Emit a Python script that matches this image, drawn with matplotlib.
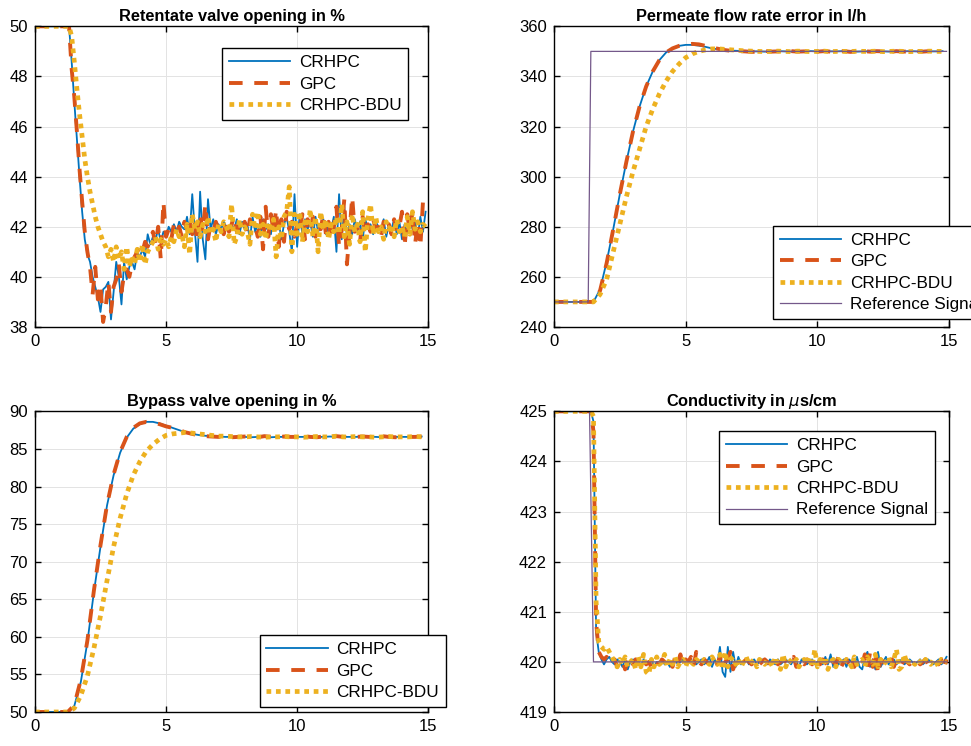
"""
Closed-loop responses of the RO plant for three controllers (CRHPC, GPC, CRHPC-BDU).

Four panels: retentate valve, permeate flow, bypass valve and conductivity.
"""

from __future__ import annotations

import matplotlib

matplotlib.use("Agg")
import matplotlib.pyplot as plt
import numpy as np


OUTPUT_PATH = "out.png"

FAST_DT = 0.1   # sample time of the noisy signals [s]
SLOW_DT = 0.25  # sample time of the smooth signals [s]

SERIES_NAMES = ["CRHPC", "GPC", "CRHPC-BDU"]
REF_NAME = "Reference Signal"

X_TICKS = [0, 5, 10, 15]

# ---- Retentate valve opening in % (one row = one second) ----
RETENTATE_CRHPC = [
    50, 50, 50, 50, 50, 50, 50, 50, 50, 50,
    50, 50, 50, 50, 48.6, 47.0, 45.5, 44.0, 42.6, 41.5,
    40.9, 40.6, 40.0, 39.6, 39.2, 38.6, 39.5, 39.6, 39.8, 38.3,
    39.4, 40.6, 40.0, 38.9, 40.6, 39.9, 40.4, 40.6, 40.3, 41.0,
    40.8, 41.1, 40.8, 41.7, 41.3, 41.6, 41.5, 41.9, 41.4, 41.8,
    41.6, 42.0, 41.8, 42.1, 41.8, 42.2, 42.0, 41.9, 42.4, 41.7,
    43.3, 41.8, 40.6, 43.4, 41.5, 40.7, 43.1, 41.9, 42.3, 41.7,
    42.1, 41.9, 42.2, 42.0, 41.8, 42.1, 41.9, 42.3, 41.7, 42.2,
    41.9, 42.1, 41.5, 42.4, 41.8, 42.1, 41.6, 42.3, 41.9, 42.1,
    41.7, 42.4, 41.9, 42.2, 41.5, 42.1, 42.4, 41.8, 41.0, 43.3,
    41.2, 42.5, 41.7, 42.3, 41.9, 42.2, 41.6, 42.4, 41.8, 42.0,
    42.3, 41.7, 42.1, 41.9, 42.4, 41.0, 43.3, 41.5, 42.8, 41.6,
    42.1, 41.7, 42.3, 41.8, 42.2, 41.5, 42.3, 41.9, 42.1, 41.7,
    42.2, 42.0, 41.8, 42.3, 41.6, 42.1, 41.9, 42.3, 41.7, 42.2,
    41.5, 42.1, 41.8, 42.4, 41.9, 42.2, 41.6, 42.4, 41.8, 42.6,
]
RETENTATE_GPC = [
    50, 50, 50, 50, 50, 50, 50, 50, 50, 50,
    50, 50, 50, 50, 48.3, 47.2, 45.8, 44.3, 43.0, 41.8,
    41.0, 40.4, 39.3, 40.4, 39.1, 39.6, 38.2, 38.8, 39.8, 38.6,
    39.6, 39.9, 40.5, 39.4, 40.1, 40.3, 40.0, 40.5, 40.8, 41.0,
    41.2, 41.0, 41.4, 41.2, 41.5, 41.8, 41.3, 42.0, 40.7, 43.0,
    41.6, 41.9, 41.5, 42.1, 41.8, 42.0, 41.6, 42.2, 41.9, 42.3,
    41.7, 42.2, 41.4, 42.5, 41.8, 42.9, 41.5, 42.1, 41.8, 42.2,
    41.9, 42.0, 41.7, 42.2, 41.8, 42.1, 42.4, 41.8, 42.1, 41.9,
    42.2, 41.7, 42.3, 41.9, 42.0, 41.6, 42.4, 41.1, 42.8, 41.6,
    42.5, 41.8, 42.7, 41.2, 42.3, 41.4, 42.6, 41.9, 42.2, 41.6,
    42.1, 41.8, 42.5, 41.5, 42.3, 41.8, 42.4, 41.6, 42.2, 41.9,
    42.5, 41.7, 42.2, 41.5, 42.0, 42.8, 41.2, 41.9, 43.1, 40.5,
    41.8, 43.2, 41.8, 42.0, 41.4, 42.4, 41.7, 42.1, 41.8, 42.3,
    41.9, 42.0, 41.6, 42.2, 41.9, 42.1, 41.7, 42.3, 41.8, 42.0,
    42.6, 41.2, 42.5, 41.8, 42.6, 41.3, 42.2, 41.2, 43.0, 42.6,
]
RETENTATE_BDU = [
    50, 50, 50, 50, 50, 50, 50, 50, 50, 50,
    50, 50, 50, 50, 49.6, 48.6, 47.5, 46.5, 45.6, 44.7,
    44.0, 43.4, 42.9, 42.4, 42.0, 41.7, 41.4, 41.2, 40.8, 41.1,
    40.6, 41.2, 40.7, 41.0, 40.3, 41.2, 40.4, 40.8, 40.5, 41.1,
    40.6, 41.3, 40.5, 41.0, 41.2, 41.4, 41.6, 41.1, 41.5, 41.3,
    41.5, 41.2, 41.6, 41.4, 41.9, 41.6, 41.7, 41.2, 42.1, 40.9,
    42.5, 41.9, 42.2, 41.6, 42.1, 41.8, 42.4, 41.7, 41.9, 41.4,
    42.1, 41.8, 42.2, 42.0, 41.6, 42.9, 41.3, 41.6, 42.3, 41.7,
    42.0, 41.8, 41.3, 42.5, 41.9, 42.6, 41.7, 42.1, 41.5, 42.2,
    41.8, 42.3, 40.8, 42.0, 41.5, 42.4, 42.6, 43.6, 41.0, 42.5,
    41.7, 42.6, 41.4, 42.2, 41.8, 42.7, 41.6, 42.4, 41.0, 42.6,
    41.9, 42.3, 41.5, 42.1, 41.8, 42.4, 41.7, 42.9, 41.6, 42.2,
    41.3, 42.5, 41.8, 42.1, 41.4, 42.6, 41.0, 42.3, 42.9, 41.7,
    42.4, 41.8, 42.0, 41.5, 42.2, 41.9, 42.1, 41.6, 42.3, 41.8,
    42.0, 41.6, 42.4, 41.7, 42.6, 41.9, 42.2, 41.8, 42.1, 42.0,
]

# ---- Permeate flow rate in l/h (one row = one second) ----
FLOW_CRHPC = [
    250, 250, 250, 250,
    250, 250, 250, 255,
    266, 279, 293, 306,
    318, 328, 336, 342,
    346.5, 349.5, 351.3, 352.2,
    352.6, 352.6, 352.3, 351.8,
    351.2, 350.8, 350.5, 350.3,
    350.2, 350.1, 350.0, 350.0,
    349.9, 350.0, 350.1, 350.0,
    349.9, 350.0, 350.0, 350.1,
    350.0, 349.9, 350.0, 350.0,
    350.1, 350.0, 349.9, 350.0,
    350.0, 350.1, 350.0, 349.9,
    350.0, 350.0, 350.1, 350.0,
    349.9, 350.0, 350.0, 350.1,
]
FLOW_GPC = [
    250, 250, 250, 250,
    250, 250, 250, 254.5,
    265.5, 279, 293, 306,
    318, 328, 336, 342,
    346.5, 349.5, 351.2, 352.2,
    352.7, 353.0, 352.8, 352.2,
    351.5, 351.0, 350.5, 350.2,
    350.1, 350.0, 349.8, 349.9,
    350.2, 349.9, 350.0, 349.8,
    350.1, 349.9, 350.0, 350.1,
    349.9, 350.1, 349.9, 350.0,
    350.1, 349.8, 350.0, 350.1,
    349.9, 350.1, 350.0, 349.8,
    350.1, 349.9, 350.0, 350.1,
    349.9, 350.1, 349.9, 350.4,
]
FLOW_BDU = [
    250, 250, 250, 250,
    250, 250, 250, 253,
    259, 270, 281, 292,
    302, 311, 320, 327,
    333, 338, 342, 345,
    347.5, 349, 350, 350.6,
    351.0, 351.0, 350.8, 350.6,
    350.4, 350.2, 350.1, 350.0,
    349.9, 350.0, 350.1, 350.0,
    349.9, 350.1, 350.0, 349.9,
    350.0, 350.1, 349.9, 350.0,
    350.0, 349.9, 350.1, 350.0,
    350.0, 350.1, 349.9, 350.0,
    350.1, 350.0, 349.9, 350.0,
    350.0, 350.1, 350.0, 350.0,
]
FLOW_REF_TIME = [0, 1.3, 1.4, 14.9]
FLOW_REF = [250, 250, 350, 350]

# ---- Bypass valve opening in % (one row = one second) ----
BYPASS_CRHPC = [
    50, 50, 50, 50,
    50, 50, 50.8, 54,
    59.3, 66, 72, 77.5,
    81.5, 84.5, 86.5, 87.7,
    88.3, 88.6, 88.6, 88.4,
    88.1, 87.8, 87.5, 87.2,
    87.0, 86.85, 86.75, 86.7,
    86.65, 86.6, 86.6, 86.6,
    86.6, 86.55, 86.6, 86.6,
    86.55, 86.6, 86.6, 86.65,
    86.6, 86.6, 86.55, 86.6,
    86.6, 86.65, 86.6, 86.6,
    86.6, 86.6, 86.65, 86.6,
    86.6, 86.55, 86.6, 86.6,
    86.6, 86.6, 86.6, 86.65,
]
BYPASS_GPC = [
    50, 50, 50, 50,
    50, 50, 50.9, 54.3,
    59.5, 66.2, 72.2, 77.6,
    81.6, 84.6, 86.6, 87.8,
    88.4, 88.6, 88.5, 88.3,
    88.0, 87.8, 87.5, 87.2,
    87.0, 86.8, 86.7, 86.65,
    86.6, 86.7, 86.55, 86.6,
    86.65, 86.6, 86.55, 86.7,
    86.6, 86.55, 86.65, 86.6,
    86.6, 86.7, 86.6, 86.55,
    86.65, 86.6, 86.7, 86.6,
    86.55, 86.6, 86.65, 86.6,
    86.6, 86.7, 86.6, 86.55,
    86.65, 86.6, 86.6, 86.65,
]
BYPASS_BDU = [
    50, 50, 50, 50,
    50, 50, 50.5, 52.2,
    54.8, 58.5, 62.8, 67.5,
    72, 75.8, 79, 81.5,
    83.3, 84.7, 85.6, 86.3,
    86.8, 87.0, 87.1, 87.2,
    87.1, 87.0, 86.9, 86.8,
    86.7, 86.7, 86.65, 86.6,
    86.6, 86.65, 86.6, 86.55,
    86.6, 86.6, 86.65, 86.6,
    86.6, 86.55, 86.6, 86.65,
    86.6, 86.6, 86.7, 86.6,
    86.6, 86.65, 86.6, 86.6,
    86.55, 86.6, 86.65, 86.6,
    86.6, 86.6, 86.65, 86.6,
]

# ---- Conductivity in uS/cm (one row = one second) ----
COND_CRHPC = [
    425, 425, 425, 425, 425, 425, 425, 425, 425, 425,
    425, 425, 425, 425, 425, 424.8, 420.6, 420.2, 420.05, 419.95,
    420.05, 420.1, 420.0, 419.95, 420.05, 420.0, 419.9, 420.05, 419.85, 420.0,
    420.05, 419.95, 420.0, 419.9, 420.05, 419.95, 420.0, 420.05, 419.9, 420.0,
    419.95, 420.05, 419.95, 420.0, 419.9, 420.0, 420.05, 419.95, 420.0, 420.05,
    419.95, 420.0, 420.05, 420.0, 419.95, 420.0, 420.05, 419.95, 420.0, 420.1,
    419.9, 420.05, 419.95, 420.3, 419.8, 419.7, 420.3, 419.8, 420.2, 419.9,
    420.1, 419.95, 420.0, 420.05, 419.95, 420.0, 420.05, 419.95, 420.0, 420.05,
    420.0, 419.95, 420.05, 420.0, 419.95, 420.05, 419.95, 420.0, 420.05, 420.0,
    419.95, 420.05, 420.0, 419.9, 420.05, 420.0, 419.95, 420.0, 420.05, 419.95,
    420.0, 420.05, 419.95, 420.1, 419.95, 420.15, 419.9, 420.05, 419.95, 420.0,
    420.05, 419.9, 420.05, 420.0, 419.95, 420.1, 419.9, 419.85, 420.1, 420.2,
    419.9, 420.05, 419.85, 420.2, 419.9, 420.0, 420.1, 419.95, 420.0, 420.05,
    419.95, 420.0, 420.05, 419.95, 420.0, 420.05, 420.0, 419.95, 420.0, 420.05,
    419.95, 420.0, 420.05, 420.0, 419.95, 420.0, 420.05, 419.95, 420.0, 420.1,
]
COND_GPC = [
    425, 425, 425, 425, 425, 425, 425, 425, 425, 425,
    425, 425, 425, 425, 425, 424.6, 420.8, 420.2, 420.1, 420.05,
    420.1, 420.0, 419.95, 420.05, 419.9, 420.0, 420.05, 419.85, 420.0, 420.1,
    419.95, 420.05, 419.9, 420.0, 420.05, 419.95, 420.0, 419.9, 420.05, 420.0,
    419.95, 420.05, 420.0, 419.95, 420.05, 419.9, 420.1, 419.95, 420.15, 419.9,
    420.05, 420.0, 420.1, 419.9, 420.2, 420.0, 419.95, 420.05, 420.0, 419.95,
    420.0, 420.05, 419.95, 420.1, 419.9, 420.0, 420.05, 420.2, 419.85, 420.0,
    420.05, 419.95, 420.0, 420.05, 420.0, 419.95, 420.0, 420.05, 419.95, 420.0,
    420.05, 420.0, 419.95, 420.0, 420.05, 419.95, 420.0, 420.05, 420.0, 419.95,
    420.0, 420.1, 419.9, 420.05, 420.0, 419.95, 420.05, 420.0, 419.95, 420.05,
    420.0, 419.95, 420.05, 420.0, 419.9, 420.05, 420.0, 419.95, 420.1, 419.9,
    420.0, 420.05, 419.95, 420.1, 419.9, 420.05, 420.0, 419.95, 420.15, 419.85,
    420.2, 419.9, 420.2, 419.75, 420.05, 420.0, 419.95, 420.05, 420.1, 419.9,
    420.05, 420.0, 419.95, 420.05, 420.0, 419.95, 420.0, 420.05, 420.0, 419.95,
    420.0, 420.05, 419.95, 420.0, 420.05, 420.0, 419.95, 420.05, 419.85, 420.05,
]
COND_BDU = [
    425, 425, 425, 425, 425, 425, 425, 425, 425, 425,
    425, 425, 425, 425, 425, 424.9, 421.2, 420.4, 420.3, 420.25,
    420.3, 420.2, 420.1, 420.0, 419.9, 420.05, 419.95, 420.1, 419.9, 420.0,
    420.05, 419.85, 420.1, 419.9, 420.15, 419.8, 419.75, 420.05, 419.9, 420.1,
    419.95, 420.0, 420.15, 419.9, 420.05, 419.95, 420.1, 419.9, 420.0, 420.05,
    419.9, 420.05, 420.0, 419.95, 420.05, 420.0, 419.95, 420.05, 420.0, 419.95,
    420.1, 420.0, 419.95, 420.15, 419.85, 420.2, 419.9, 420.05, 420.1, 419.95,
    420.05, 419.9, 420.0, 420.1, 419.95, 420.0, 420.05, 419.9, 420.05, 420.0,
    419.95, 420.05, 420.0, 419.9, 420.1, 419.95, 419.85, 420.15, 419.9, 420.05,
    420.0, 419.95, 420.05, 419.9, 420.0, 420.05, 419.95, 420.1, 419.9, 420.25,
    419.9, 420.05, 419.95, 420.1, 419.85, 420.0, 420.05, 419.9, 420.05, 420.0,
    419.95, 420.05, 420.0, 419.9, 420.1, 419.95, 420.0, 420.05, 419.9, 420.1,
    420.0, 419.95, 420.15, 419.9, 420.05, 419.95, 420.0, 420.1, 419.9, 420.05,
    420.25, 419.85, 419.9, 420.15, 419.95, 420.05, 420.0, 419.95, 420.05, 420.0,
    419.95, 420.05, 420.0, 419.95, 420.05, 420.0, 419.9, 420.05, 420.0, 420.0,
]
COND_REF_TIME = [0, 1.35, 1.5, 14.9]
COND_REF = [425, 425, 420, 420]

# MATLAB default line colours
COLORS = ["#0072BD", "#D95319", "#EDB120"]
REF_COLOR = "#74588A"

LINE_STYLES = [
    dict(linestyle="-", linewidth=1.3),
    dict(linestyle=(0, (3.5, 3.0)), linewidth=2.8),
    dict(linestyle=(0, (1.0, 1.0)), linewidth=3.4),
]

FONT = ["Liberation Sans", "DejaVu Sans"]


def sample_times(values: list[float], dt: float) -> np.ndarray:
    """Time stamps of a uniformly sampled signal."""
    return np.arange(len(values)) * dt


def style_axes(ax: plt.Axes, title: str, y_ticks: list[float]) -> None:
    ax.set_xlim(0, 15)
    ax.set_ylim(y_ticks[0], y_ticks[-1])
    ax.set_xticks(X_TICKS)
    ax.set_yticks(y_ticks)
    ax.set_title(title, fontsize=11.8, fontweight="bold", pad=4)
    ax.grid(True, color="#e3e3e3", linewidth=0.7)
    ax.set_axisbelow(True)
    ax.tick_params(direction="in", length=4, width=1.0, top=True, right=True,
                   labelsize=12, pad=5)
    for spine in ax.spines.values():
        spine.set_linewidth(1.0)


def plot_panel(ax, dt, series, title, y_ticks, ref=None, legend_kw=None) -> None:
    """Draw the three controller responses (and optional reference)."""
    for values, name, color, style in zip(series, SERIES_NAMES, COLORS, LINE_STYLES):
        ax.plot(sample_times(values, dt), values, color=color, label=name, **style)

    if ref is not None:
        ref_time, ref_values = ref
        ax.plot(ref_time, ref_values, color=REF_COLOR, linewidth=0.9, label=REF_NAME)

    style_axes(ax, title, y_ticks)

    legend = ax.legend(fontsize=12.3, frameon=True, fancybox=False, framealpha=1.0,
                       edgecolor="black", handlelength=3.6, handletextpad=0.5,
                       labelspacing=0.38, borderpad=0.4, borderaxespad=0.0,
                       **(legend_kw or {}))
    legend.get_frame().set_linewidth(1.0)


def main() -> None:
    plt.rcParams["font.family"] = FONT
    plt.rcParams["mathtext.fontset"] = "dejavusans"

    fig = plt.figure(figsize=(9.71, 7.46), dpi=100)

    left_x, right_x = 0.036, 0.5705
    top_y, bottom_y = 0.5617, 0.0456
    width_l, width_r, height = 0.405, 0.407, 0.403

    ax_ret = fig.add_axes([left_x, top_y, width_l, height])
    ax_flow = fig.add_axes([right_x, top_y, width_r, height])
    ax_byp = fig.add_axes([left_x, bottom_y, width_l, height])
    ax_cond = fig.add_axes([right_x, bottom_y, width_r, height])

    plot_panel(
        ax_ret, FAST_DT,
        [RETENTATE_CRHPC, RETENTATE_GPC, RETENTATE_BDU],
        "Retentate valve opening in %",
        [38, 40, 42, 44, 46, 48, 50],
        legend_kw=dict(loc="upper right", bbox_to_anchor=(0.949, 0.927)),
    )
    plot_panel(
        ax_flow, SLOW_DT,
        [FLOW_CRHPC, FLOW_GPC, FLOW_BDU],
        "Permeate flow rate error in l/h",
        [240, 260, 280, 300, 320, 340, 360],
        ref=(FLOW_REF_TIME, FLOW_REF),
        legend_kw=dict(loc="lower left", bbox_to_anchor=(0.554, 0.027)),
    )
    plot_panel(
        ax_byp, SLOW_DT,
        [BYPASS_CRHPC, BYPASS_GPC, BYPASS_BDU],
        "Bypass valve opening in %",
        [50, 55, 60, 65, 70, 75, 80, 85, 90],
        legend_kw=dict(loc="lower left", bbox_to_anchor=(0.571, 0.017)),
    )
    plot_panel(
        ax_cond, FAST_DT,
        [COND_CRHPC, COND_GPC, COND_BDU],
        r"Conductivity in $\mu$s/cm",
        [419, 420, 421, 422, 423, 424, 425],
        ref=(COND_REF_TIME, COND_REF),
        legend_kw=dict(loc="upper left", bbox_to_anchor=(0.418, 0.934)),
    )

    fig.savefig(OUTPUT_PATH, dpi=100)
    plt.close(fig)


if __name__ == "__main__":
    main()
